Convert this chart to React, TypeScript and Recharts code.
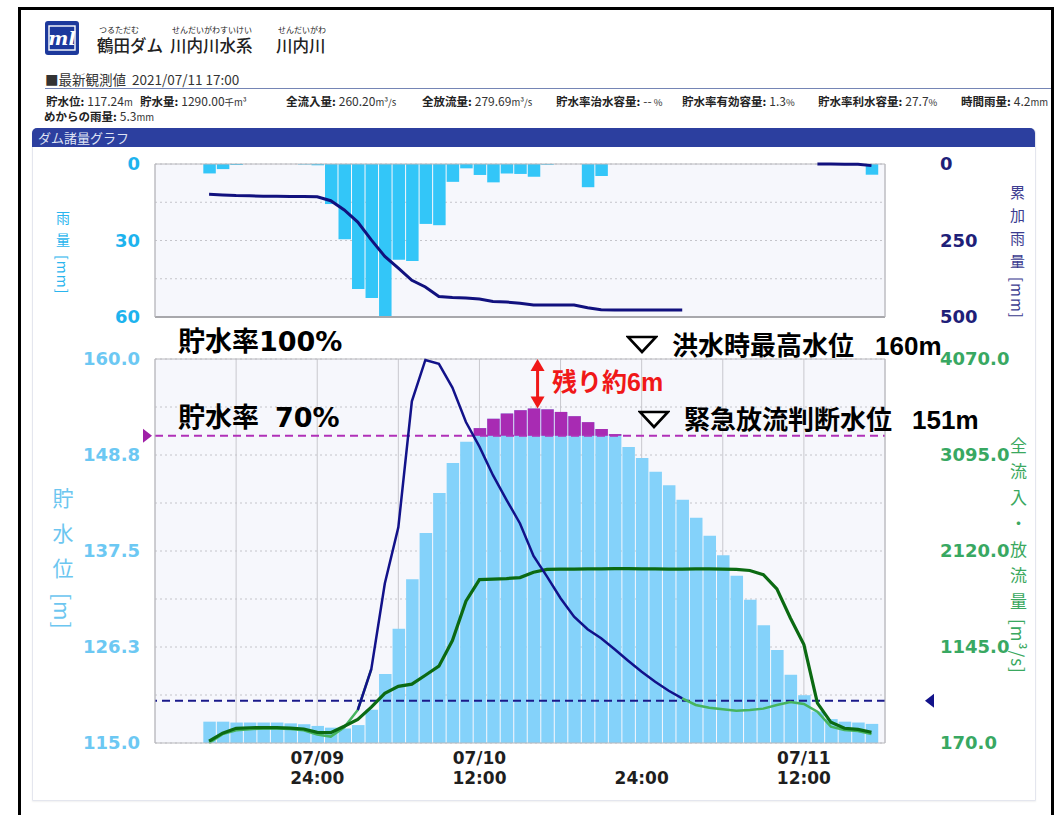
import React from "react"
import {
  ComposedChart,
  Bar,
  Line,
  XAxis,
  YAxis,
  CartesianGrid,
  ReferenceLine,
  ReferenceDot,
} from "recharts"

// hours counted from 07/09 12:00 (0) to 07/11 18:00 (54)
const HOURS = [
  4, 5, 6, 7, 8, 9, 10, 11, 12, 13, 14, 15, 16, 17, 18, 19, 20, 21, 22, 23, 24, 25, 26, 27, 28,
  29, 30, 31, 32, 33, 34, 35, 36, 37, 38, 39, 40, 41, 42, 43, 44, 45, 46, 47, 48, 49, 50, 51, 52, 53,
]

// 時間雨量 [mm]
const RAIN = [
  3.7, 2.0, 0.4, 0, 0, 0, 0, 0.2, 0.5, 15.7, 29.5, 49, 52.5, 60, 37.5, 38, 23.5, 24, 7, 1.7, 4.3,
  7.2, 3.7, 3.9, 5.0, 0.3, 0, 0, 9.1, 4.7, 0, 0, 0, 0, 0, 0, 0, 0, 0, 0, 0, 0, 0, 0, 0, 0, 0, 0, 0, 4.2,
]

// 累加雨量 [mm]
const CUM_RAIN = [
  99, 101, 103, 104, 105, 105, 106, 106, 107, 120, 150, 190, 248, 302, 340, 380, 402, 433, 436, 438,
  441, 449, 451, 455, 461, 461, 461, 461, 470, 476, 477, 477, 477, 477, 477, 477,
  null, null, null, null, null, null, null, null, null, 0, 0, 0.5, 1.1, 5.3,
]

// 貯水位 [m]
const LEVEL = [
  117.5, 117.5, 117.4, 117.4, 117.4, 117.4, 117.3, 117.2, 117.0, 116.8, 116.7, 117.1, 118.9, 123.1,
  128.4, 134.2, 139.6, 144.3, 147.8, 150.3, 151.9, 153.0, 153.6, 154.0, 154.2, 154.1, 153.8, 153.3,
  152.6, 151.8, 151.2, 149.7, 148.4, 146.8, 145.2, 143.5, 141.4, 139.3, 137.0, 134.6, 131.8, 128.8,
  125.9, 123.0, 120.6, 118.7, 117.8, 117.5, 117.4, 117.24,
]

// 全流入量 [m3/s]
const INFLOW = [
  170, 260, 300, 310, 318, 318, 312, 300, 255, 235, 330, 505, 920, 1790, 2360, 3640, 4060, 4020, 3780,
  3430, 3180, 2890, 2640, 2400, 2070, 1860, 1640, 1453, 1325, 1233, 1122, 1006, 894, 792, 701, 624,
  556, 529, 512, 498, 505, 519, 556, 586, 566, 488, 336, 302, 292, 260.2,
]

// 全放流量 [m3/s]
const OUTFLOW = [
  190, 270, 319, 325, 326, 326, 322, 312, 278, 275, 340, 410, 535, 675, 745, 768, 858, 950, 1210,
  1610, 1830, 1835, 1840, 1850, 1905, 1934, 1935, 1936, 1938, 1938, 1940, 1940, 1938, 1938, 1936,
  1936, 1938, 1938, 1935, 1934, 1922, 1880, 1735, 1440, 1170, 575, 380, 320, 308, 279.69,
]

const GRID_HOURS = [0, 6, 12, 18, 24, 30, 36, 42, 48, 54]
const TICK_HOURS = [12, 24, 36, 48]
const TICK_DATES = ["07/09", "07/10", "", "07/11"]
const TICK_TIMES = ["24:00", "12:00", "24:00", "12:00"]
const RAIN_TICKS = [0, 15, 30, 45, 60]
const CUM_TICKS = [0, 125, 250, 375, 500]
const LEVEL_TICKS = [115, 120.625, 126.25, 131.875, 137.5, 143.125, 148.75, 154.375, 160]
const FLOW_TICKS = [170, 1145, 2120, 3095, 4070]

const EMERGENCY_LEVEL = 151 // 緊急放流判断水位
const MAX_LEVEL = 160 // 洪水時最高水位
const FLOOD_FLOW = 600 // 洪水量
const ARROW_HOUR = 28.3
const PEAK_LEVEL = 154.2

const data = HOURS.map((h, i) => {
  const v = INFLOW[i]
  const prev = i > 0 ? INFLOW[i - 1] : Infinity
  const next = i < INFLOW.length - 1 ? INFLOW[i + 1] : -Infinity
  return {
    h,
    rain: RAIN[i],
    cum: CUM_RAIN[i],
    level: LEVEL[i],
    over: LEVEL[i] > EMERGENCY_LEVEL ? [EMERGENCY_LEVEL, LEVEL[i]] : null,
    outflow: OUTFLOW[i],
    inHigh: v >= FLOOD_FLOW || next >= FLOOD_FLOW ? v : null,
    inLow: v < FLOOD_FLOW || next < FLOOD_FLOW || prev < FLOOD_FLOW ? v : null,
  }
})

const tickFont = { fontSize: 18, fontWeight: "bold", fontFamily: "DejaVu Sans" }
const everyOther = (v: number, i: number) => (i % 2 ? "" : String(v))

function XTick(props: any) {
  const { x, y, payload } = props
  const i = TICK_HOURS.indexOf(payload.value)
  if (i < 0) return <g />
  return (
    <text textAnchor="middle" fontFamily="DejaVu Sans" fontWeight="bold" fontSize={17} fill="#1e1e1e">
      <tspan x={x} y={y + 21}>{TICK_DATES[i]}</tspan>
      <tspan x={x} y={y + 41}>{TICK_TIMES[i]}</tspan>
    </text>
  )
}

function Arrow(props: any) {
  const { x1, y1, y2 } = props
  const top = Math.min(y1, y2)
  const bot = Math.max(y1, y2)
  return (
    <g>
      <line x1={x1} y1={top + 8} x2={x1} y2={bot - 8} stroke="#f01818" strokeWidth={3} />
      <polygon points={`${x1},${top} ${x1 - 7},${top + 12} ${x1 + 7},${top + 12}`} fill="#f01818" />
      <polygon points={`${x1},${bot} ${x1 - 7},${bot - 12} ${x1 + 7},${bot - 12}`} fill="#f01818" />
    </g>
  )
}

function VTitle({ text, unit, left, top, size, color, spacing }: any) {
  return (
    <div
      style={{
        position: "absolute",
        left,
        top,
        writingMode: "vertical-rl",
        fontSize: size,
        color,
        letterSpacing: spacing,
        lineHeight: 1,
      }}
    >
      {text}
      <span style={{ letterSpacing: 1 }}>{unit}</span>
    </div>
  )
}

const INFO = [
  { label: "貯水位:", value: "117.24", unit: "m", left: 46 },
  { label: "貯水量:", value: "1290.00", unit: "千m³", left: 140 },
  { label: "全流入量:", value: "260.20", unit: "m³/s", left: 286 },
  { label: "全放流量:", value: "279.69", unit: "m³/s", left: 422 },
  { label: "貯水率治水容量:", value: "--", unit: " %", left: 556 },
  { label: "貯水率有効容量:", value: "1.3", unit: "%", left: 682 },
  { label: "貯水率利水容量:", value: "27.7", unit: "%", left: 818 },
  { label: "時間雨量:", value: "4.2", unit: "mm", left: 961 },
]

function Tri({ left, top }: any) {
  return (
    <svg style={{ position: "absolute", left, top }} width={32} height={20}>
      <polygon points="2,2 30,2 16,17" fill="#fff" stroke="#000" strokeWidth={2.6} strokeLinejoin="miter" />
    </svg>
  )
}

const note = {
  position: "absolute" as const,
  fontFamily: '"Liberation Sans", "Noto Sans CJK JP", sans-serif',
  fontWeight: "bold" as const,
  fontSize: 26,
  lineHeight: 1,
  color: "#000",
  whiteSpace: "nowrap" as const,
}
const noteLeft = { ...note, fontFamily: '"DejaVu Sans", "Noto Sans CJK JP", sans-serif', fontSize: 27 }

export default function App() {
  return (
    <div
      style={{
        position: "absolute",
        left: 0,
        top: 0,
        width: 1061,
        height: 815,
        overflow: "hidden",
        background: "#fff",
        fontFamily: '"Noto Sans CJK JP", sans-serif',
      }}
    >
      {/* header */}
      <svg style={{ position: "absolute", left: 45, top: 21 }} width={34} height={34}>
        <rect x={0} y={0} width={34} height={34} rx={3} fill="#1d399c" />
        <rect x={4} y={5} width={26} height={24} fill="none" stroke="#fff" strokeWidth={1.4} />
        <text x={17} y={24} textAnchor="middle" fontSize={19} fontStyle="italic" fontWeight="bold" fill="#fff" fontFamily="DejaVu Serif">
          ml
        </text>
      </svg>
      {[
        { ruby: "つるただむ", name: "鶴田ダム", left: 97 },
        { ruby: "せんだいがわすいけい", name: "川内川水系", left: 170 },
        { ruby: "せんだいがわ", name: "川内川", left: 276 },
      ].map((t) => (
        <div key={t.name} style={{ position: "absolute", left: t.left, top: 25, color: "#222" }}>
          <div style={{ fontSize: 8, lineHeight: "10px", paddingLeft: 2 }}>{t.ruby}</div>
          <div style={{ fontSize: 16.5, lineHeight: "20px", fontWeight: 500 }}>{t.name}</div>
        </div>
      ))}
      <div style={{ position: "absolute", left: 45, top: 70, fontSize: 13.5, color: "#333", lineHeight: "18px" }}>
        ■最新観測値&nbsp;&nbsp;2021/07/11 17:00
      </div>
      <div style={{ position: "absolute", left: 45, top: 88, width: 1006, height: 1, background: "#7585b5" }} />
      <div style={{ position: "absolute", left: 0, top: 0, width: 1051, height: 126, overflow: "hidden" }}>
        {INFO.map((it) => (
          <div
            key={it.label}
            style={{ position: "absolute", left: it.left, top: 94, fontSize: 12, lineHeight: "13px", color: "#333", whiteSpace: "nowrap" }}
          >
            <b style={{ color: "#222", fontSize: 11.5 }}>{it.label}</b>
            <span style={{ marginLeft: 3 }}>{it.value}</span>
            <span style={{ fontSize: 9.5 }}>{it.unit}</span>
          </div>
        ))}
        <div style={{ position: "absolute", left: 44, top: 109, fontSize: 12, lineHeight: "13px", color: "#333" }}>
          <b style={{ color: "#222", fontSize: 11.5 }}>めからの雨量:</b>
          <span style={{ marginLeft: 3 }}>5.3</span>
          <span style={{ fontSize: 9.5 }}>mm</span>
        </div>
      </div>

      {/* outer frame (open at the bottom) */}
      <div
        style={{
          position: "absolute",
          left: 18,
          top: 7,
          width: 1036,
          height: 815,
          borderTop: "3px solid #000",
          borderLeft: "3px solid #000",
          borderRight: "3px solid #000",
          boxSizing: "border-box",
        }}
      />

      {/* panel */}
      <div
        style={{
          position: "absolute",
          left: 32,
          top: 128,
          width: 1002,
          height: 671,
          border: "1px solid #e4e6ee",
          borderRadius: "5px 5px 0 0",
          boxShadow: "0 1px 2px rgba(0,0,0,0.06)",
          background: "#fff",
        }}
      />
      <div
        style={{
          position: "absolute",
          left: 32,
          top: 128,
          width: 1003,
          height: 19,
          background: "#2c3f9f",
          borderRadius: "5px 5px 0 0",
          color: "#dfe3f4",
          fontSize: 13,
          lineHeight: "19px",
          paddingLeft: 6,
          boxSizing: "border-box",
        }}
      >
        ダム諸量グラフ
      </div>

      {/* rainfall chart */}
      <div style={{ position: "absolute", left: 0, top: 0 }}>
        <ComposedChart width={1061} height={330} data={data} margin={{ top: 164, right: 0, bottom: 13, left: 0 }}>
          <CartesianGrid xAxisId="t" yAxisId="rain" horizontal={false} stroke="#c8c8ce" fill="#f6f7fc" />
          <CartesianGrid xAxisId="t" yAxisId="rain" vertical={false} stroke="#c4c4ca" strokeDasharray="2 3" />
          <XAxis xAxisId="t" dataKey="h" type="number" domain={[0, 54]} ticks={GRID_HOURS} interval={0} height={0} tick={false} tickLine={false} axisLine={false} />
          <YAxis
            yAxisId="rain"
            domain={[0, 60]}
            reversed
            ticks={RAIN_TICKS}
            interval={0}
            width={155}
            tickLine={false}
            tickMargin={9}
            axisLine={{ stroke: "#b8b8bc" }}
            tick={{ ...tickFont, fill: "#1db3ee" }}
            tickFormatter={everyOther}
          />
          <YAxis
            yAxisId="cum"
            orientation="right"
            domain={[0, 500]}
            reversed
            ticks={CUM_TICKS}
            interval={0}
            width={176}
            tickLine={false}
            tickMargin={49}
            axisLine={{ stroke: "#b8b8bc" }}
            tick={{ ...tickFont, fill: "#1e2078" }}
            tickFormatter={everyOther}
          />
          <ReferenceLine xAxisId="t" yAxisId="rain" y={0} stroke="#b8b8bc" />
          <ReferenceLine xAxisId="t" yAxisId="rain" y={60} stroke="#a8a8ac" strokeWidth={2} />
          <Bar xAxisId="t" yAxisId="rain" dataKey="rain" fill="#33c6f8" barSize={12.5} isAnimationActive={false} />
          <Line
            xAxisId="t"
            yAxisId="cum"
            dataKey="cum"
            stroke="#11117e"
            strokeWidth={3}
            dot={false}
            type="linear"
            isAnimationActive={false}
          />
        </ComposedChart>
      </div>

      {/* water level / flow chart */}
      <div style={{ position: "absolute", left: 0, top: 340 }}>
        <ComposedChart width={1061} height={475} data={data} margin={{ top: 19, right: 0, bottom: 27, left: 0 }}>
          <CartesianGrid xAxisId="t" yAxisId="lv" horizontal={false} stroke="#c8c8ce" fill="#f6f7fc" />
          <CartesianGrid xAxisId="t" yAxisId="lv" vertical={false} stroke="#c4c4ca" strokeDasharray="2 3" />
          <XAxis
            xAxisId="t"
            dataKey="h"
            type="number"
            domain={[0, 54]}
            ticks={GRID_HOURS}
            interval={0}
            height={45}
            tickSize={0}
            tickMargin={0}
            tickLine={false}
            axisLine={{ stroke: "#b8b8bc" }}
            tick={<XTick />}
          />
          <XAxis xAxisId="p" dataKey="h" type="number" domain={[0, 54]} orientation="top" height={0} hide />
          <YAxis
            yAxisId="lv"
            domain={[115, 160]}
            ticks={LEVEL_TICKS}
            interval={0}
            width={155}
            tickLine={false}
            tickMargin={9}
            axisLine={{ stroke: "#b8b8bc" }}
            tick={{ ...tickFont, fill: "#6cc8f3" }}
            tickFormatter={(v: number, i: number) => (i % 2 ? "" : v.toFixed(1))}
          />
          <YAxis
            yAxisId="flow"
            orientation="right"
            domain={[170, 4070]}
            ticks={FLOW_TICKS}
            interval={0}
            width={176}
            tickLine={false}
            tickMargin={49}
            axisLine={{ stroke: "#b8b8bc" }}
            tick={{ ...tickFont, fill: "#38a862" }}
            tickFormatter={(v: number) => v.toFixed(1)}
          />
          <ReferenceLine xAxisId="t" yAxisId="lv" y={MAX_LEVEL} stroke="#b8b8bc" />
          <Bar xAxisId="t" yAxisId="lv" dataKey="level" fill="#84d2fa" barSize={12.5} isAnimationActive={false} />
          <Bar xAxisId="p" yAxisId="lv" dataKey="over" fill="#a82bb3" barSize={12.5} isAnimationActive={false} />
          <ReferenceLine xAxisId="t" yAxisId="lv" y={EMERGENCY_LEVEL} stroke="#b030b8" strokeWidth={2} strokeDasharray="8 5" />
          <ReferenceLine xAxisId="t" yAxisId="flow" y={FLOOD_FLOW} stroke="#1a1a8a" strokeWidth={2} strokeDasharray="8 5" />
          <Line xAxisId="t" yAxisId="flow" dataKey="inLow" stroke="#46b45e" strokeWidth={2.5} dot={false} isAnimationActive={false} />
          <Line xAxisId="t" yAxisId="flow" dataKey="outflow" stroke="#0b6a12" strokeWidth={3.2} dot={false} isAnimationActive={false} />
          <Line xAxisId="t" yAxisId="flow" dataKey="inHigh" stroke="#12128a" strokeWidth={2.5} dot={false} isAnimationActive={false} />
          <ReferenceDot
            xAxisId="t"
            yAxisId="lv"
            x={0}
            y={EMERGENCY_LEVEL}
            ifOverflow="visible"
            shape={(p: any) => (
              <polygon points={`${p.cx - 12},${p.cy - 7} ${p.cx - 3},${p.cy} ${p.cx - 12},${p.cy + 7}`} fill="#a020a8" />
            )}
          />
          <ReferenceDot
            xAxisId="t"
            yAxisId="flow"
            x={54}
            y={FLOOD_FLOW}
            ifOverflow="visible"
            shape={(p: any) => (
              <polygon points={`${p.cx + 49},${p.cy - 7} ${p.cx + 40},${p.cy} ${p.cx + 49},${p.cy + 7}`} fill="#12128a" />
            )}
          />
          <ReferenceLine
            xAxisId="t"
            yAxisId="lv"
            segment={[
              { x: ARROW_HOUR, y: MAX_LEVEL },
              { x: ARROW_HOUR, y: PEAK_LEVEL },
            ]}
            shape={<Arrow />}
          />
        </ComposedChart>
      </div>

      {/* axis titles */}
      <VTitle text="雨量" unit="[mm]" left={56} top={211} size={14} color="#2ab5ee" spacing={8} />
      <VTitle text="貯水位" unit="[m]" left={52} top={488} size={21} color="#6cc6f0" spacing={14} />
      <VTitle text="累加雨量" unit="[mm]" left={1010} top={185} size={15} color="#3c3c90" spacing={8} />
      <VTitle text="全流入・放流量" unit="[m³/s]" left={1010} top={437} size={17} color="#3aa860" spacing={9} />

      {/* annotations */}
      <div style={{ ...noteLeft, left: 178, top: 328 }}>貯水率100%</div>
      <Tri left={626} top={335} />
      <div style={{ ...note, left: 672, top: 333 }}>洪水時最高水位</div>
      <div style={{ ...note, left: 875, top: 333 }}>160m</div>
      <div style={{ ...note, left: 552, top: 370, fontSize: 25, color: "#f01818" }}>残り約6m</div>
      <div style={{ ...noteLeft, left: 178, top: 404 }}>貯水率</div>
      <div style={{ ...noteLeft, left: 275, top: 404 }}>70%</div>
      <Tri left={638} top={410} />
      <div style={{ ...note, left: 684, top: 407 }}>緊急放流判断水位</div>
      <div style={{ ...note, left: 912, top: 407 }}>151m</div>
    </div>
  )
}
